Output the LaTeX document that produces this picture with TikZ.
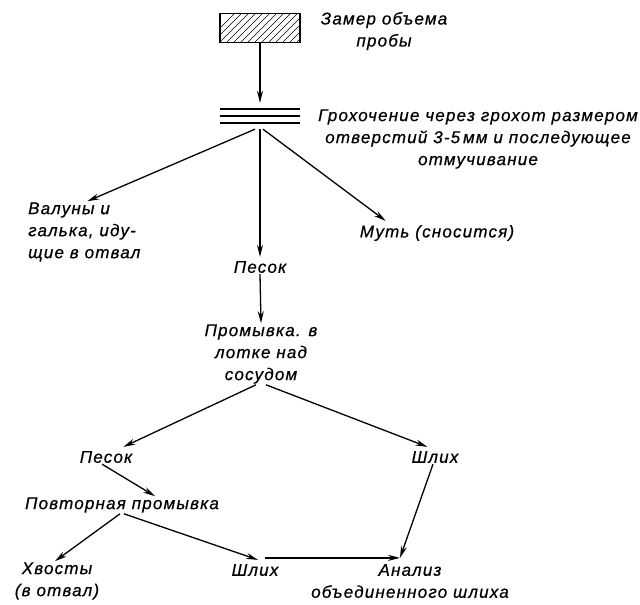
\documentclass[tikz,border=0pt]{standalone}
\usepackage{fontspec}
\setmainfont{Liberation Sans}[LetterSpace=7, FakeBold=0.6]
\usetikzlibrary{arrows.meta}

\tikzset{
  lbl/.style={inner sep=1pt, font=\itshape\fontsize{17}{22}\selectfont},
  flow/.style={-{Stealth[length=12pt,width=6pt]}, line width=1.3pt},
}

\begin{document}
\begin{tikzpicture}[x=1pt,y=-1pt]
\useasboundingbox (0,0) rectangle (640,605);

% hatched box for the sample
\node[draw, line width=1.8pt, minimum width=80pt, minimum height=29pt, inner sep=0] (probe) at (260,28) {};
\begin{scope}
  \clip (probe.south west) rectangle (probe.north east);
  \foreach \x in {205,212,...,303}
    \draw[line width=.7pt] (\x,43) -- (\x+29,14);
\end{scope}
\node[lbl, align=center] (zamer) at (384,31) {Замер объема\\пробы};

% screen
\node[minimum width=80pt, minimum height=26pt, inner sep=0] (grate) at (260,116) {};
\foreach \y in {109,116,123}
  \draw[line width=1.4pt] (220,\y) -- (300,\y);
\node[lbl, align=center] (grateText) at (478,139) {Грохочение через грохот размером\\отверстий 3-5\,мм и последующее\\отмучивание};

\node[lbl, align=left, anchor=west] (valuny) at (27,232) {Валуны и\\галька, иду-\\щие в отвал};
\node[lbl] (pesok) at (260,267) {Песок};
\node[lbl] (mut) at (437,233) {Муть (сносится)};
\node[lbl, align=center] (promyvka) at (261,354) {Промывка. в\\лотке над\\сосудом};

\node[lbl] (pesokB) at (106,457) {Песок};
\node[lbl] (shlih) at (435,457) {Шлих};
\node[lbl] (povtor) at (122,505) {Повторная промывка};
\node[lbl, align=center] (hvosty) at (57,581) {Хвосты\\(в отвал)};
\node[lbl] (shlihB) at (255,570) {Шлих};
\node[lbl, align=center] (analiz) at (410,581) {Анализ\\объединенного шлиха};
\coordinate (joinS) at ([xshift=10pt,yshift=5pt]shlihB.north);

% arrows
\draw[flow] (probe.south) -- (grate.north);
\draw[flow] ([xshift=-5pt]grate.south) -- ([xshift=3pt]valuny.north);
\draw[flow] (grate.south) -- ([yshift=3pt]pesok.north);
\draw[flow] ([xshift=3pt]grate.south) -- ([xshift=27pt,yshift=3pt]mut.north west);
\draw[flow] (pesok.south) -- (promyvka.north);
\draw[flow] ([xshift=-5pt]promyvka.south) -- ([xshift=-10pt,yshift=3pt]pesokB.north east);
\draw[flow] ([xshift=5pt]promyvka.south) -- ([xshift=17pt,yshift=3pt]shlih.north west);
\draw[flow] ([xshift=-4pt]pesokB.south) -- ([xshift=33pt]povtor.north);
\draw[flow] ([xshift=-2pt]povtor.south) -- ([xshift=-2pt]hvosty.north);
\draw[flow] ([xshift=2pt]povtor.south) -- ([xshift=3pt,yshift=3pt]shlihB.north);
\draw[flow] ([xshift=-2pt]shlih.south) -- ([xshift=-10pt,yshift=5pt]analiz.north);
\draw[flow] (joinS) -- ([xshift=-10pt]analiz.north |- joinS);
\end{tikzpicture}
\end{document}
